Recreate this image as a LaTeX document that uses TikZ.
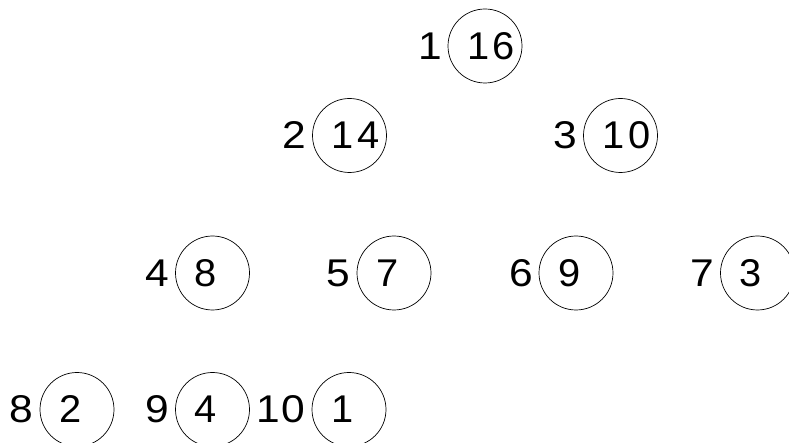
\documentclass[tikz,border=0pt]{standalone}
\usepackage{fontspec}
\setmainfont{Liberation Sans}[FakeStretch=1.1, LetterSpace=6]
\newfontfamily\valfont{Liberation Sans}[FakeStretch=1.03, LetterSpace=8]
\usetikzlibrary{positioning}

\tikzset{
  heapnode/.style={draw, circle, thin, minimum size=1.48cm, inner sep=0pt, outer sep=0pt},
  keyval/.style={anchor=west, inner sep=0pt, font=\valfont\fontsize{22}{26}\selectfont},
  idx/.style={inner sep=0pt, font=\fontsize{22}{26}\selectfont}
}

\begin{document}
\begin{tikzpicture}
\useasboundingbox (0,0) rectangle (15.78,8.86);
% heap array drawn as a tree, index left of each node
\foreach \i/\x/\y/\v in {1/9.70/7.94/16, 2/6.99/6.15/14, 3/12.41/6.15/10,
    4/4.25/3.40/8, 5/7.88/3.40/7, 6/11.52/3.40/9, 7/15.15/3.40/3,
    8/1.54/0.67/2, 9/4.25/0.67/4, 10/6.98/0.67/1} {
  \node[heapnode] (n\i) at (\x,\y) {};
  \node[keyval] (v\i) at ([xshift=0.38cm]n\i.west) {\v};
  \node[idx, left=0.12cm of n\i] (i\i) {\i};
}
\end{tikzpicture}
\end{document}
